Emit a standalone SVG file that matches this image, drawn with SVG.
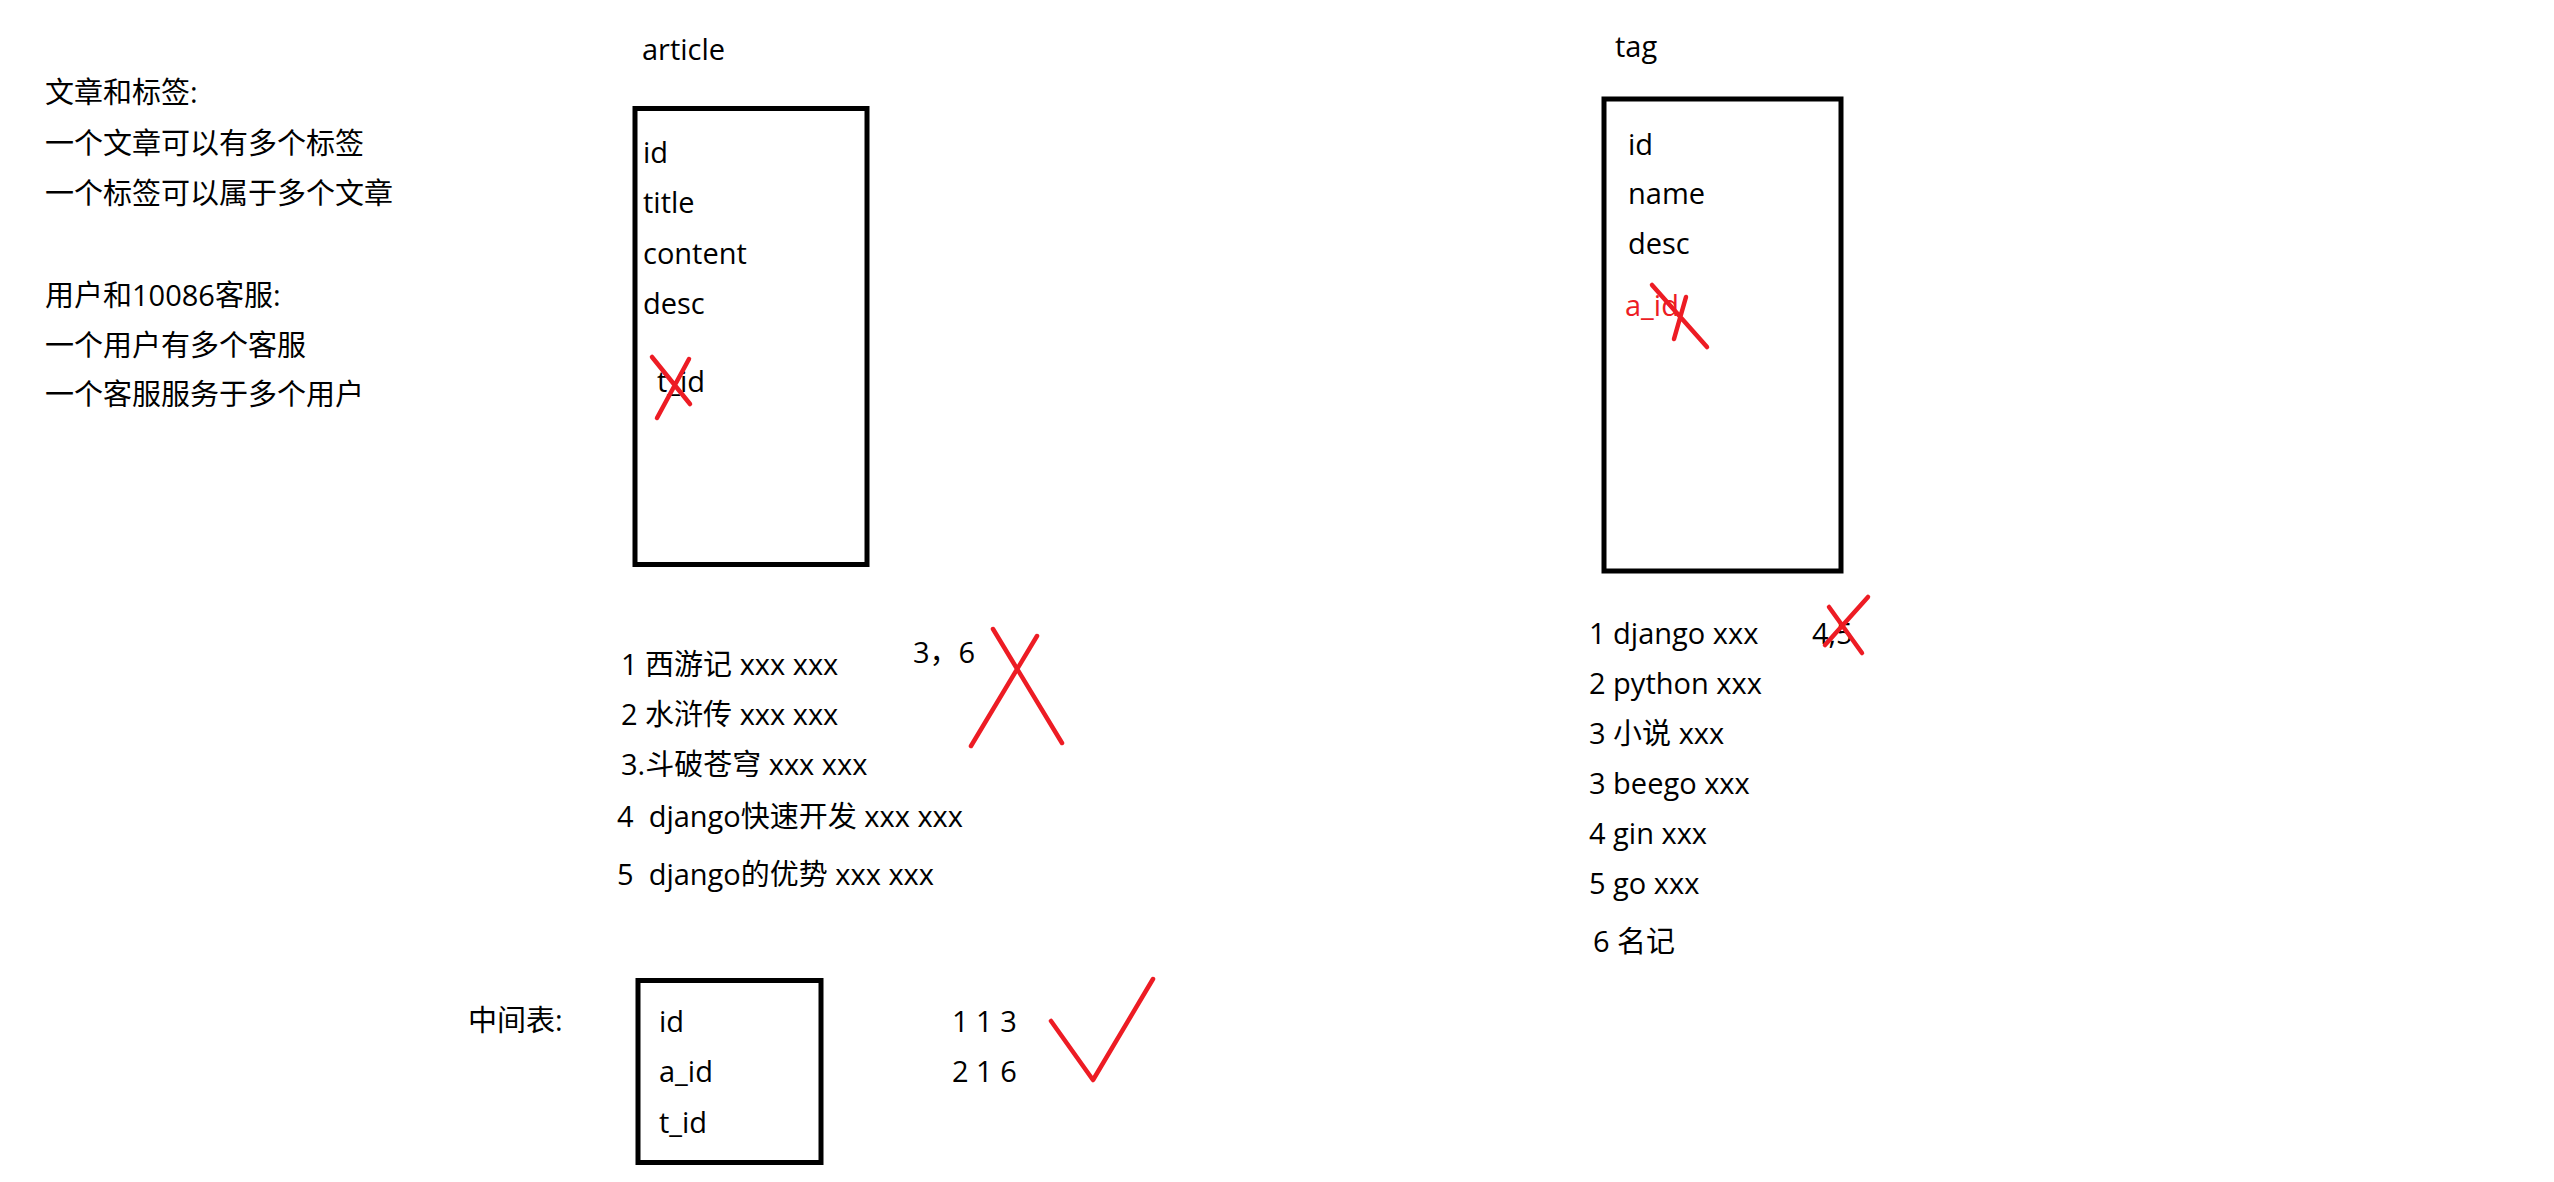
<svg xmlns="http://www.w3.org/2000/svg" width="2554" height="1182" viewBox="0 0 2554 1182">
<style>
text{font-family:"Open Sans","Noto Sans CJK SC","Noto Sans",sans-serif;font-size:29px;fill:#000;white-space:pre}
.red{fill:#ED1C24}
.box{fill:none;stroke:#000;stroke-width:5}
.mark{fill:none;stroke:#ED1C24;stroke-width:4.5;stroke-linecap:round;stroke-linejoin:round}
</style>
<rect width="2554" height="1182" fill="#fff"/>
<g id="notes">
<text x="45" y="103">文章和标签:</text>
<text x="45" y="154">一个文章可以有多个标签</text>
<text x="45" y="204">一个标签可以属于多个文章</text>
<text x="45" y="306">用户和10086客服:</text>
<text x="45" y="356">一个用户有多个客服</text>
<text x="45" y="405">一个客服服务于多个用户</text>
</g>
<g id="article">
<text x="642" y="60">article</text>
<rect class="box" x="635" y="108.5" width="232" height="456"/>
<text x="643" y="163">id</text>
<text x="643" y="213">title</text>
<text x="643" y="264">content</text>
<text x="643" y="314">desc</text>
<text x="657" y="392">t_id</text>
</g>
<g id="tag">
<text x="1615" y="57">tag</text>
<rect class="box" x="1604" y="99" width="237" height="472"/>
<text x="1628" y="155">id</text>
<text x="1628" y="204">name</text>
<text x="1628" y="254">desc</text>
<text class="red" x="1625" y="316">a_id</text>
</g>
<g id="article-rows">
<text x="621" y="675">1 西游记 xxx xxx</text>
<text x="621" y="725">2 水浒传 xxx xxx</text>
<text x="621" y="775">3.斗破苍穹 xxx xxx</text>
<text x="617" y="827">4  django快速开发 xxx xxx</text>
<text x="617" y="885">5  django的优势 xxx xxx</text>
<text x="913" y="663">3，6</text>
</g>
<g id="tag-rows">
<text x="1589" y="644">1 django xxx</text>
<text x="1812" y="644">4,5</text>
<text x="1589" y="694">2 python xxx</text>
<text x="1589" y="744">3 小说 xxx</text>
<text x="1589" y="794">3 beego xxx</text>
<text x="1589" y="844">4 gin xxx</text>
<text x="1589" y="894">5 go xxx</text>
<text x="1593" y="952">6 名记</text>
</g>
<g id="middle-table">
<text x="468" y="1031">中间表:</text>
<rect class="box" x="638" y="980.5" width="183" height="182"/>
<text x="659" y="1032">id</text>
<text x="659" y="1082">a_id</text>
<text x="659" y="1133">t_id</text>
<text x="952" y="1032">1 1 3</text>
<text x="952" y="1082">2 1 6</text>
</g>
<g id="marks">
<path class="mark" d="M652 357L690 404M689 359L657 418"/>
<path class="mark" d="M1652 285L1707 347M1686 297L1674 339"/>
<path class="mark" d="M993 629L1062 743M1037 636L971 746"/>
<path class="mark" d="M1829 607L1862 653M1868 597L1825 645"/>
<path class="mark" d="M1051 1021L1093 1080L1153 979"/>
</g>
</svg>
